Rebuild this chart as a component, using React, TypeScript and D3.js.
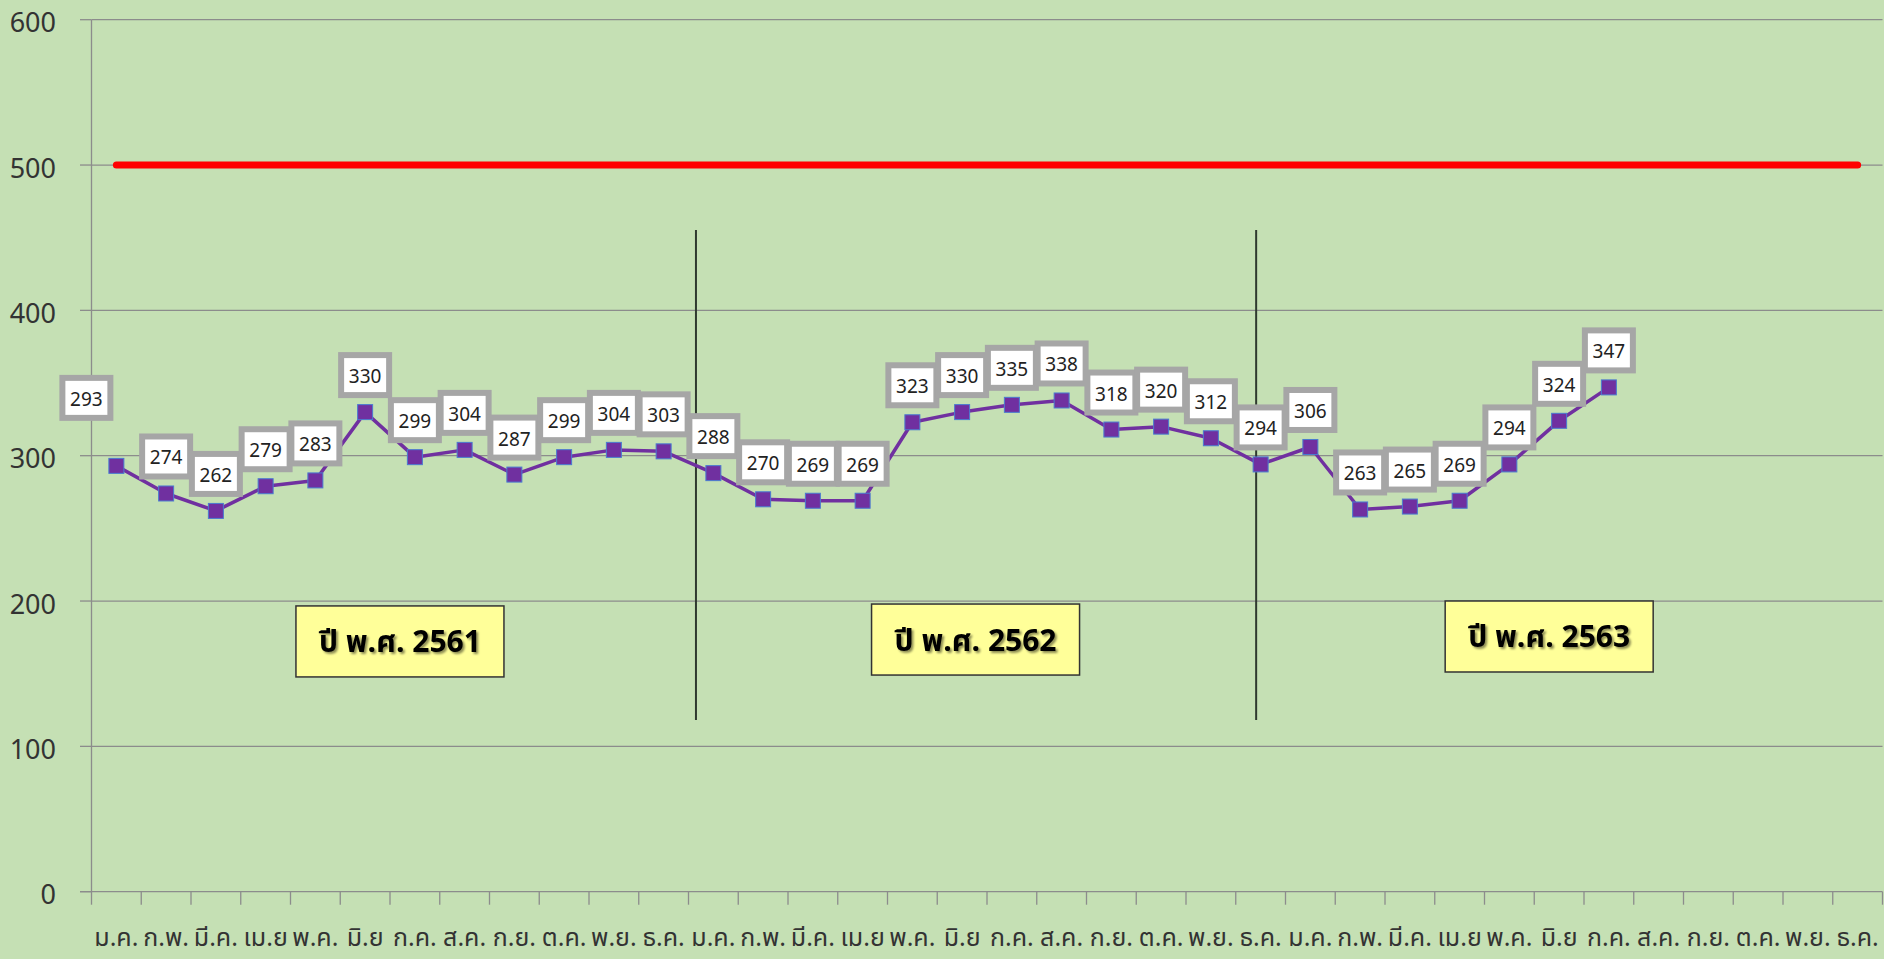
import React from "react";
import * as d3 from "d3";

const months = ["ม.ค.", "ก.พ.", "มี.ค.", "เม.ย", "พ.ค.", "มิ.ย", "ก.ค.", "ส.ค.", "ก.ย.", "ต.ค.", "พ.ย.", "ธ.ค."];
const years = ["2561", "2562", "2563"];
const values2561 = [293, 274, 262, 279, 283, 330, 299, 304, 287, 299, 304, 303];
const values2562 = [288, 270, 269, 269, 323, 330, 335, 338, 318, 320, 312, 294];
const values2563 = [306, 263, 265, 269, 294, 324, 347];
const targetValue = 500;
const yTicks = [0, 100, 200, 300, 400, 500, 600];
const yearLabels = ["ปี พ.ศ. 2561", "ปี พ.ศ. 2562", "ปี พ.ศ. 2563"];
// annotation anchors in data space: [category index, value]
const yearBoxAnchors: [number, number][] = [[5.7, 172.2], [17.27, 173.5], [28.8, 175.6]];
const dividerAnchors: [number, number, number][] = [[11.65, 455.3, 118.2], [22.91, 455.3, 118.2]];

const W = 1884;
const H = 959;
const THAI = "Tahoma, 'Noto Sans Thai', 'Noto Sans', 'DejaVu Sans', sans-serif";
const NUM = "Tahoma, 'Noto Sans', 'Open Sans', sans-serif";

export default function App() {
  const categories = years.flatMap((y) => months.map((m) => `${m}-${y}`));
  const series = [...values2561, ...values2562, ...values2563];

  const x = d3.scaleBand<string>().domain(categories).range([91.5, 1882.5]).padding(0);
  const y = d3.scaleLinear().domain([0, 600]).range([891.7, 19.7]);
  const bw = x.bandwidth();
  const cx = (i: number) => (x(categories[0]) as number) + bw / 2 + i * bw;

  const pts = series.map((v, i) => ({ v, i, px: cx(i), py: y(v) }));
  const line = d3
    .line<{ px: number; py: number }>()
    .x((d) => d.px)
    .y((d) => d.py);

  const x0 = 91.5;
  const x1 = 1882.5;
  const gridColor = "#8c8c8c";

  const labelOffset = (i: number) => (i === 0 ? { dx: -30, dy: -68 } : { dx: 0, dy: -37 });

  return (
    <svg
      width={W}
      height={H}
      style={{ position: "absolute", left: 0, top: 0, display: "block" }}
    >
      <defs>
        <filter id="tshadow" x="-10%" y="-20%" width="130%" height="150%">
          <feDropShadow dx="2" dy="2" stdDeviation="1.2" floodColor="#000" floodOpacity="0.45" />
        </filter>
      </defs>
      <rect x={0} y={0} width={W} height={H} fill="#c5e0b4" />

      {/* gridlines */}
      {yTicks.map((t) => (
        <g key={t}>
          {t > 0 && <line x1={x0} x2={x1} y1={y(t)} y2={y(t)} stroke={gridColor} strokeWidth={1.3} />}
          <line x1={80} x2={x0} y1={y(t)} y2={y(t)} stroke={gridColor} strokeWidth={1.3} />
          <text
            x={56}
            y={y(t) + 2}
            textAnchor="end"
            dominantBaseline="central"
            fontFamily={NUM}
            fontSize={27}
            fill="#333"
          >
            {t}
          </text>
        </g>
      ))}
      {/* axes */}
      <line x1={x0} x2={x0} y1={y(600)} y2={y(0)} stroke={gridColor} strokeWidth={1.3} />
      <line x1={80} x2={x1} y1={y(0)} y2={y(0)} stroke={gridColor} strokeWidth={1.3} />
      {d3.range(categories.length + 1).map((k) => {
        const xx = x0 + k * bw;
        return <line key={k} x1={xx} x2={xx} y1={y(0)} y2={y(0) + 13} stroke={gridColor} strokeWidth={1.3} />;
      })}
      {categories.map((c, i) => (
        <text
          key={c}
          x={cx(i)}
          y={946}
          textAnchor="middle"
          fontFamily={THAI}
          fontSize={25}
          fill="#333"
        >
          {c.split("-")[0]}
        </text>
      ))}

      {/* target line */}
      <line
        x1={cx(0)}
        x2={cx(categories.length - 1)}
        y1={y(targetValue)}
        y2={y(targetValue)}
        stroke="#ff0000"
        strokeWidth={7}
        strokeLinecap="round"
      />

      {/* dividers */}
      {dividerAnchors.map(([idx, top, bot], k) => (
        <line key={k} x1={cx(idx)} x2={cx(idx)} y1={y(top)} y2={y(bot)} stroke="#2f3a2f" strokeWidth={2} />
      ))}

      {/* series line */}
      <path d={line(pts) || ""} fill="none" stroke="#7030a0" strokeWidth={3.5} strokeLinejoin="round" />
      {pts.map((p) => (
        <rect
          key={p.i}
          x={p.px - 7.5}
          y={p.py - 7.5}
          width={15}
          height={15}
          fill="#7030a0"
          stroke="#4a7bd0"
          strokeWidth={1}
        />
      ))}

      {/* data labels */}
      {pts.map((p) => {
        const o = labelOffset(p.i);
        const bx = p.px + o.dx;
        const by = p.py + o.dy;
        return (
          <g key={p.i}>
            <rect x={bx - 24} y={by - 20} width={48} height={40} fill="#fff" stroke="#a6a6a6" strokeWidth={6} />
            <text
              x={bx}
              y={by + 1}
              textAnchor="middle"
              dominantBaseline="central"
              fontFamily={NUM}
              fontSize={19}
              fill="#222"
            >
              {p.v}
            </text>
          </g>
        );
      })}

      {/* year boxes */}
      {yearLabels.map((lab, k) => {
        const [idx, val] = yearBoxAnchors[k];
        const bx = cx(idx);
        const by = y(val);
        return (
          <g key={lab}>
            <rect x={bx - 104} y={by - 35.5} width={208} height={71} fill="#ffff99" stroke="#333" strokeWidth={1.5} />
            <text
              x={bx}
              y={by + 2}
              textAnchor="middle"
              dominantBaseline="central"
              fontFamily={THAI}
              fontSize={30}
              fontWeight="bold"
              fill="#000"
              filter="url(#tshadow)"
            >
              {lab}
            </text>
          </g>
        );
      })}
    </svg>
  );
}
